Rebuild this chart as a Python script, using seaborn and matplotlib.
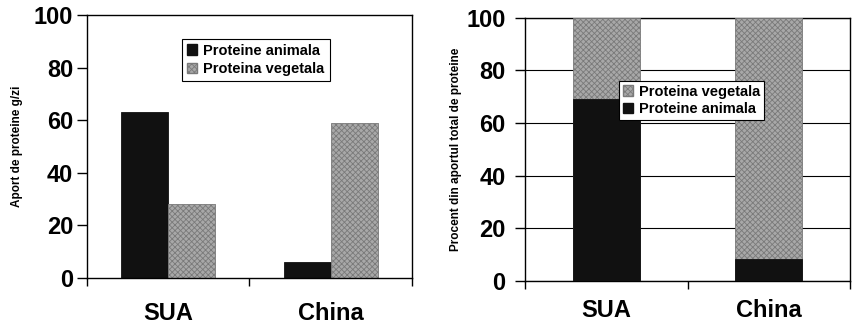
import matplotlib
matplotlib.use("Agg")
import matplotlib.pyplot as plt
from matplotlib.patches import Patch
import seaborn as sns
import pandas as pd

countries = ["SUA", "China"]
animal_g = [63, 6]
vegetal_g = [28, 59]
animal_pct = [69, 8.5]
vegetal_pct = [31, 91.5]
yticks = [0, 20, 40, 60, 80, 100]
lbl_animal = "Proteine animala"
lbl_vegetal = "Proteina vegetala"
ylabel_left = "Aport de proteine g/zi"
ylabel_right = "Procent din aportul total de proteine"

sns.set_theme(style="white")
plt.rcParams["font.family"] = ["Liberation Sans", "DejaVu Sans"]
plt.rcParams["hatch.color"] = "#7a7a7a"
plt.rcParams["hatch.linewidth"] = 0.6
plt.rcParams["text.color"] = "black"
plt.rcParams["axes.labelcolor"] = "black"
plt.rcParams["xtick.color"] = "black"
plt.rcParams["ytick.color"] = "black"

BLACK = "#111111"
GRAY = "#a8a8a8"

fig = plt.figure(figsize=(8.52, 3.23), dpi=100)
fig.patch.set_facecolor("white")
axL = fig.add_axes([0.102, 0.139, 0.3815, 0.815])
axR = fig.add_axes([0.6162, 0.130, 0.3815, 0.815])

# Left grouped bars
dfL = pd.DataFrame({
    "country": countries * 2,
    "value": animal_g + vegetal_g,
    "type": [lbl_animal] * len(countries) + [lbl_vegetal] * len(countries),
})
sns.barplot(data=dfL, x="country", y="value", hue="type", ax=axL,
            palette={lbl_animal: BLACK, lbl_vegetal: GRAY},
            width=0.58, gap=0, edgecolor=BLACK, linewidth=0.6, legend=False)
for p in axL.patches[len(countries):]:
    p.set_hatch("xxxxxx")
    p.set_edgecolor("#7a7a7a")

# Right stacked bars
total_pct = [a + v for a, v in zip(animal_pct, vegetal_pct)]
dfT = pd.DataFrame({"country": countries, "value": total_pct})
dfA = pd.DataFrame({"country": countries, "value": animal_pct})
sns.barplot(data=dfT, x="country", y="value", ax=axR, color=GRAY,
            width=0.41, edgecolor="#7a7a7a", linewidth=0.6, saturation=1, zorder=3)
for p in axR.patches:
    p.set_hatch("xxxxxx")
sns.barplot(data=dfA, x="country", y="value", ax=axR, color=BLACK,
            width=0.41, edgecolor=BLACK, linewidth=0.6, saturation=1, zorder=4)

for ax in (axL, axR):
    ax.set_xlim(-0.5, 1.5)
    ax.set_ylim(0, 100)
    ax.set_yticks(yticks)
    ax.set_yticklabels([str(t) for t in yticks], fontsize=17, fontweight="bold", color="black")
    ax.set_xticks([0, 1])
    ax.set_xticklabels(countries, fontsize=17, fontweight="bold", color="black")
    ax.set_xticks([-0.5, 0.5, 1.5], minor=True)
    ax.tick_params(axis="x", which="minor", length=6, width=1, color="black", direction="out", bottom=True)
    ax.tick_params(axis="y", which="major", length=7, width=1, color="black", direction="out", left=True)
    ax.set_xlabel("")
    for s in ax.spines.values():
        s.set_visible(True)
        s.set_color("black")
        s.set_linewidth(1)
    ax.set_facecolor("white")

axL.tick_params(axis="x", which="major", length=0, pad=17)
axR.tick_params(axis="x", which="major", length=0, pad=13)
axL.set_ylabel(ylabel_left, fontsize=8.5, fontweight="bold", labelpad=8, color="black")
axR.set_ylabel(ylabel_right, fontsize=8.5, fontweight="bold", labelpad=3, color="black")
axL.tick_params(axis="y", pad=3)
axR.tick_params(axis="y", pad=7)

axR.set_axisbelow(True)
axR.yaxis.grid(True, color="black", linewidth=0.8)
axR.xaxis.grid(False)

legL = axL.legend(handles=[Patch(facecolor=BLACK, edgecolor=BLACK, label=lbl_animal),
                           Patch(facecolor=GRAY, edgecolor="#7a7a7a", hatch="xxxxxx", label=lbl_vegetal)],
                  loc="upper left", bbox_to_anchor=(0.293, 0.91), frameon=True, fancybox=False,
                  edgecolor="black", framealpha=1, prop={"weight": "bold", "size": 10.5},
                  handlelength=0.7, handleheight=0.7, handletextpad=0.4, borderpad=0.35,
                  labelspacing=0.3, borderaxespad=0)
legL.get_frame().set_linewidth(0.8)

legR = axR.legend(handles=[Patch(facecolor=GRAY, edgecolor="#7a7a7a", hatch="xxxxxx", label=lbl_vegetal),
                           Patch(facecolor=BLACK, edgecolor=BLACK, label=lbl_animal)],
                  loc="upper left", bbox_to_anchor=(0.29, 0.76), frameon=True, fancybox=False,
                  edgecolor="black", framealpha=1, prop={"weight": "bold", "size": 10.5},
                  handlelength=0.7, handleheight=0.7, handletextpad=0.4, borderpad=0.25,
                  labelspacing=0.25, borderaxespad=0)
legR.get_frame().set_linewidth(0.8)
legR.set_zorder(10)

fig.savefig("out.png", dpi=100, facecolor="white")
